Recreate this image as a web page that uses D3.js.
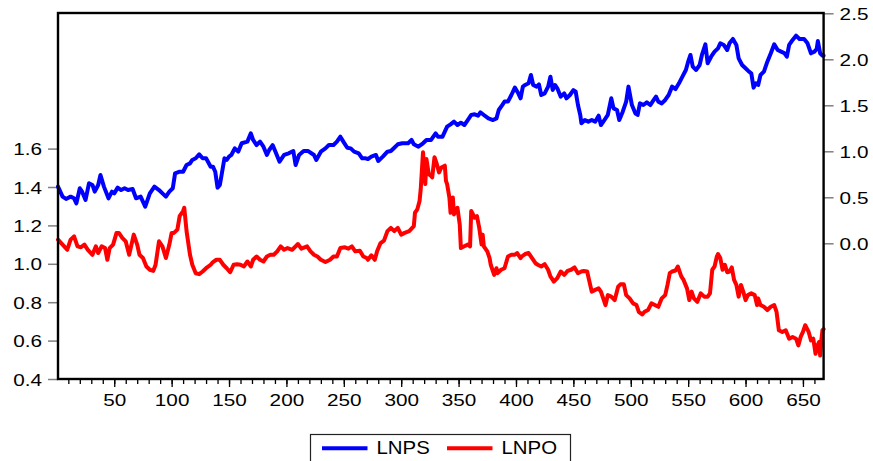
<!DOCTYPE html>
<html>
<head>
<meta charset="utf-8">
<script src="https://cdn.jsdelivr.net/npm/d3@7/dist/d3.min.js"></script>
<style>
  html, body { margin: 0; padding: 0; background: #fff; }
  svg { display: block; }
  text { font-family: "Liberation Sans", Arial, sans-serif; fill: #000; }
</style>
</head>
<body>
<svg id="chart" width="873" height="461"></svg>
<script>
// ---------------- DATA ----------------
const seriesNames = ["LNPS", "LNPO"];

// LNPS (right axis): observation index and value
const lnpsObs = [1,5,8,12,15,17,20,22,25,28,31,33,36,38,41,45,48,50,53,56,59,62,66,69,73,77,81,85,89,92,95,98,101,103,107,110,113,116,118,121,124,127,130,134,
  136,138,140,142,144,146,148,150,152,155,158,161,166,169,171,174,177,180,183,185,188,191,194,198,202,206,208,211,215,219,224,226,230,234,237,241,244,247,250,253,256,259,263,266,269,
  271,274,278,280,284,288,291,294,297,301,306,309,311,315,319,322,326,330,332,336,340,343,346,349,352,355,358,361,364,367,369,372,376,380,383,385,388,390,393,396,399,402,404,
  406,408,411,413,415,418,420,422,425,428,430,432,434,436,439,442,444,447,450,452,454,456,457,460,463,466,469,472,474,477,480,483,485,488,490,493,496,498,501,504,506,508,511,514,517,520,522,524,527,530,533,536,
  539,542,545,548,550,552,554,557,560,562,565,567,570,573,576,578,581,584,586,589,592,594,597,600,603,605,607,609,611,613,616,619,622,625,628,631,634,636,638,641,644,647,651,654,657,660,662,663,665,667,668];
const lnpsVal = [0.616,0.507,0.482,0.507,0.489,0.434,0.598,0.561,0.471,0.652,0.634,0.561,0.634,0.742,0.616,0.489,0.561,0.543,0.605,0.579,0.598,0.579,0.590,0.489,0.507,0.398,0.543,0.616,0.579,0.543,0.507,0.561,0.598,0.760,0.778,0.778,0.851,0.869,0.906,0.924,0.967,0.924,0.924,0.833,
  0.833,0.778,0.605,0.634,0.778,0.924,0.906,0.942,0.960,1.032,0.996,1.087,1.105,1.195,1.123,1.068,1.105,1.050,0.960,1.014,1.068,0.978,0.887,0.960,0.978,1.003,0.851,0.960,1.003,1.003,0.960,0.906,0.996,1.032,1.068,1.068,1.105,1.159,1.097,1.039,1.032,0.996,0.978,0.924,0.924,
  0.916,0.942,0.960,0.895,0.942,0.996,1.003,1.039,1.076,1.087,1.087,1.123,1.076,1.050,1.087,1.123,1.123,1.195,1.159,1.159,1.268,1.293,1.322,1.286,1.311,1.286,1.340,1.395,1.402,1.387,1.424,1.395,1.358,1.340,1.358,1.449,1.503,1.540,1.540,1.612,1.692,1.630,1.576,
  1.703,1.721,1.739,1.830,1.721,1.703,1.728,1.612,1.630,1.703,1.811,1.666,1.721,1.685,1.594,1.630,1.576,1.612,1.666,1.648,1.503,1.395,1.304,1.340,1.322,1.340,1.322,1.387,1.286,1.340,1.395,1.576,1.467,1.449,1.340,1.431,1.540,1.703,1.503,1.413,1.395,1.521,1.503,1.532,1.503,1.558,1.594,1.540,1.521,1.558,1.612,1.703,
  1.677,1.739,1.811,1.884,1.974,2.047,1.920,1.884,1.938,2.047,2.163,1.956,2.028,2.083,2.119,2.174,2.156,2.101,2.174,2.221,2.156,2.011,1.938,1.902,1.866,1.848,1.692,1.739,1.721,1.830,1.866,1.974,2.065,2.163,2.101,2.083,2.065,2.028,2.156,2.210,2.257,2.221,2.221,2.174,2.065,2.083,2.112,2.199,2.065,2.039,2.040];

// LNPO (left axis): observation index and value
const lnpoObs = [1,5,9,12,15,18,21,24,27,31,34,36,39,42,44,46,49,52,54,57,60,63,67,70,72,75,78,81,84,86,89,92,95,98,100,102,105,107,110,111,113,116,118,121,124,127,130,134,
  136,139,142,145,148,151,154,157,160,163,166,169,171,174,177,180,183,186,189,192,195,198,201,205,208,210,213,218,221,224,227,230,234,238,241,244,247,251,254,257,260,264,267,270,
  271,274,277,279,282,285,288,291,294,297,300,303,307,311,312,314,316,317,319,321,322,324,326,327,329,331,333,335,338,339,340,342,343,345,346,349,351,352,355,358,360,361,364,366,368,370,371,372,375,377,378,381,383,384,387,390,393,396,399,401,404,
  405,408,411,414,417,419,422,425,428,430,433,436,439,442,445,448,451,454,457,459,462,464,466,469,472,474,476,478,480,483,486,489,491,494,496,499,502,505,507,510,512,515,518,521,524,527,530,532,534,536,
  539,541,544,546,549,551,553,555,558,561,564,567,569,571,573,575,576,578,580,582,584,586,588,590,592,594,596,598,600,602,605,608,610,611,613,616,619,622,625,627,629,632,635,638,641,644,646,648,650,652,655,657,659,661,662,664,665,666,667,668];
const lnpoVal = [1.126,1.100,1.073,1.126,1.143,1.091,1.086,1.100,1.073,1.047,1.091,1.056,1.091,1.082,1.021,1.082,1.100,1.161,1.161,1.135,1.117,1.047,1.152,1.100,1.047,1.030,0.986,0.969,0.963,0.995,1.117,1.091,1.030,1.100,1.161,1.161,1.178,1.248,1.275,1.292,1.170,1.047,0.995,0.951,0.946,0.960,0.977,0.995,
  1.009,1.021,1.021,0.995,0.977,0.956,0.995,0.998,0.995,0.986,1.012,0.986,1.021,1.038,1.021,1.012,1.038,1.047,1.047,1.065,1.091,1.073,1.082,1.073,1.091,1.103,1.079,1.091,1.065,1.047,1.038,1.021,1.009,1.021,1.038,1.038,1.082,1.086,1.079,1.091,1.065,1.068,1.038,1.030,
  1.021,1.044,1.021,1.065,1.108,1.121,1.170,1.187,1.170,1.187,1.152,1.161,1.170,1.196,1.266,1.283,1.327,1.388,1.581,1.415,1.546,1.467,1.458,1.450,1.555,1.520,1.476,1.502,1.511,1.432,1.415,1.345,1.266,1.345,1.257,1.292,1.205,1.082,1.091,1.100,1.091,1.275,1.240,1.248,1.187,1.100,1.152,1.091,1.065,1.030,0.995,0.942,0.977,0.951,0.969,0.977,1.038,1.047,1.047,1.056,1.030,
  1.038,1.051,1.056,1.030,1.003,0.995,0.986,0.998,0.969,0.934,0.907,0.925,0.960,0.942,0.963,0.969,0.981,0.951,0.960,0.963,0.960,0.907,0.855,0.864,0.872,0.855,0.820,0.785,0.837,0.829,0.811,0.881,0.893,0.893,0.837,0.820,0.794,0.785,0.750,0.736,0.750,0.759,0.794,0.785,0.776,0.820,0.837,0.890,0.951,0.960,
  0.965,0.986,0.934,0.916,0.872,0.811,0.855,0.820,0.802,0.846,0.829,0.829,0.846,0.969,0.986,1.038,1.051,1.030,0.969,0.995,0.956,0.960,0.981,0.916,0.890,0.829,0.890,0.855,0.811,0.837,0.846,0.837,0.785,0.820,0.785,0.776,0.759,0.776,0.785,0.750,0.654,0.645,0.654,0.610,0.619,0.610,0.575,0.619,0.645,0.680,0.645,0.601,0.610,0.531,0.566,0.592,0.522,0.601,0.654,0.660];

const nObs = 668;
const xMajorTicks = [50,100,150,200,250,300,350,400,450,500,550,600,650];
const xMinorTicks = d3.range(10, 661, 10);
const leftTicks = [0.4,0.6,0.8,1.0,1.2,1.4,1.6];
const rightTicks = [0.0,0.5,1.0,1.5,2.0,2.5];

// ---------------- LAYOUT ----------------
const plot = { left: 58, right: 823.6, top: 13, bottom: 379 };
const colors = { LNPS: "#0000ff", LNPO: "#ff0000" };
const svg = d3.select("#chart");

const x = d3.scaleLinear().domain([1, nObs]).range([plot.left, plot.right]);
const yL = d3.scaleLinear().domain([0.4, 1.6]).range([379, 148.6]);
const yR = d3.scaleLinear().domain([0.0, 2.5]).range([243.3, 13.3]);

// X axis: minor ticks
svg.append("g")
  .attr("transform", `translate(0,${plot.bottom})`)
  .call(d3.axisBottom(x).tickValues(xMinorTicks).tickSize(5).tickFormat(""))
  .call(g => g.select(".domain").remove())
  .call(g => g.selectAll("line").attr("stroke", "#000").attr("stroke-width", 1.3));

// X axis: major ticks with labels
svg.append("g")
  .attr("transform", `translate(0,${plot.bottom})`)
  .call(d3.axisBottom(x).tickValues(xMajorTicks).tickSize(8).tickFormat(d3.format("d")))
  .call(g => g.select(".domain").remove())
  .call(g => g.selectAll("line").attr("stroke", "#000").attr("stroke-width", 1.3))
  .call(g => g.selectAll("text")
      .attr("y", 0).attr("dy", null)
      .attr("transform", "translate(0,27) scale(1.22,1)")
      .style("font-size", "17px"));

// Left axis
svg.append("g")
  .attr("transform", `translate(${plot.left},0)`)
  .call(d3.axisLeft(yL).tickValues(leftTicks).tickSize(10).tickFormat(d3.format(".1f")))
  .call(g => g.select(".domain").remove())
  .call(g => g.selectAll("line").attr("stroke", "#808080").attr("stroke-width", 1.5))
  .call(g => g.selectAll("text")
      .attr("x", 0).attr("dy", "0.36em")
      .attr("transform", "translate(-16,0) scale(1.22,1)")
      .style("font-size", "17px"));

// Right axis
svg.append("g")
  .attr("transform", `translate(${plot.right},0)`)
  .call(d3.axisRight(yR).tickValues(rightTicks).tickSize(10).tickFormat(d3.format(".1f")))
  .call(g => g.select(".domain").remove())
  .call(g => g.selectAll("line").attr("stroke", "#808080").attr("stroke-width", 1.5))
  .call(g => g.selectAll("text")
      .attr("x", 0).attr("dy", "0.36em")
      .attr("transform", "translate(16,0) scale(1.22,1)")
      .style("font-size", "17px"));

// Lines
const lineR = d3.line().x(d => x(d[0])).y(d => yR(d[1]));
const lineL = d3.line().x(d => x(d[0])).y(d => yL(d[1]));

svg.append("path")
  .datum(d3.zip(lnpsObs, lnpsVal))
  .attr("d", lineR)
  .attr("fill", "none")
  .attr("stroke", colors.LNPS)
  .attr("stroke-width", 4)
  .attr("stroke-linejoin", "round")
  .attr("stroke-linecap", "round");

svg.append("path")
  .datum(d3.zip(lnpoObs, lnpoVal))
  .attr("d", lineL)
  .attr("fill", "none")
  .attr("stroke", colors.LNPO)
  .attr("stroke-width", 4)
  .attr("stroke-linejoin", "round")
  .attr("stroke-linecap", "round");

// Frame
svg.append("rect")
  .attr("x", plot.left).attr("y", plot.top)
  .attr("width", plot.right - plot.left).attr("height", plot.bottom - plot.top)
  .attr("fill", "none").attr("stroke", "#000").attr("stroke-width", 2.4);

// Legend
const lg = svg.append("g");
lg.append("rect")
  .attr("x", 310.5).attr("y", 434.5).attr("width", 260).attr("height", 40)
  .attr("fill", "#fff").attr("stroke", "#222").attr("stroke-width", 1.2);
const legendItems = [
  { name: seriesNames[0], x0: 322, x1: 367.5, tx: 376.5 },
  { name: seriesNames[1], x0: 447, x1: 492.5, tx: 501.5 }
];
legendItems.forEach(it => {
  lg.append("line")
    .attr("x1", it.x0).attr("x2", it.x1).attr("y1", 448.3).attr("y2", 448.3)
    .attr("stroke", colors[it.name]).attr("stroke-width", 4);
  lg.append("text")
    .attr("transform", `translate(${it.tx},453.5) scale(1.16,1)`)
    .style("font-size", "17.6px")
    .text(it.name);
});
</script>
</body>
</html>
